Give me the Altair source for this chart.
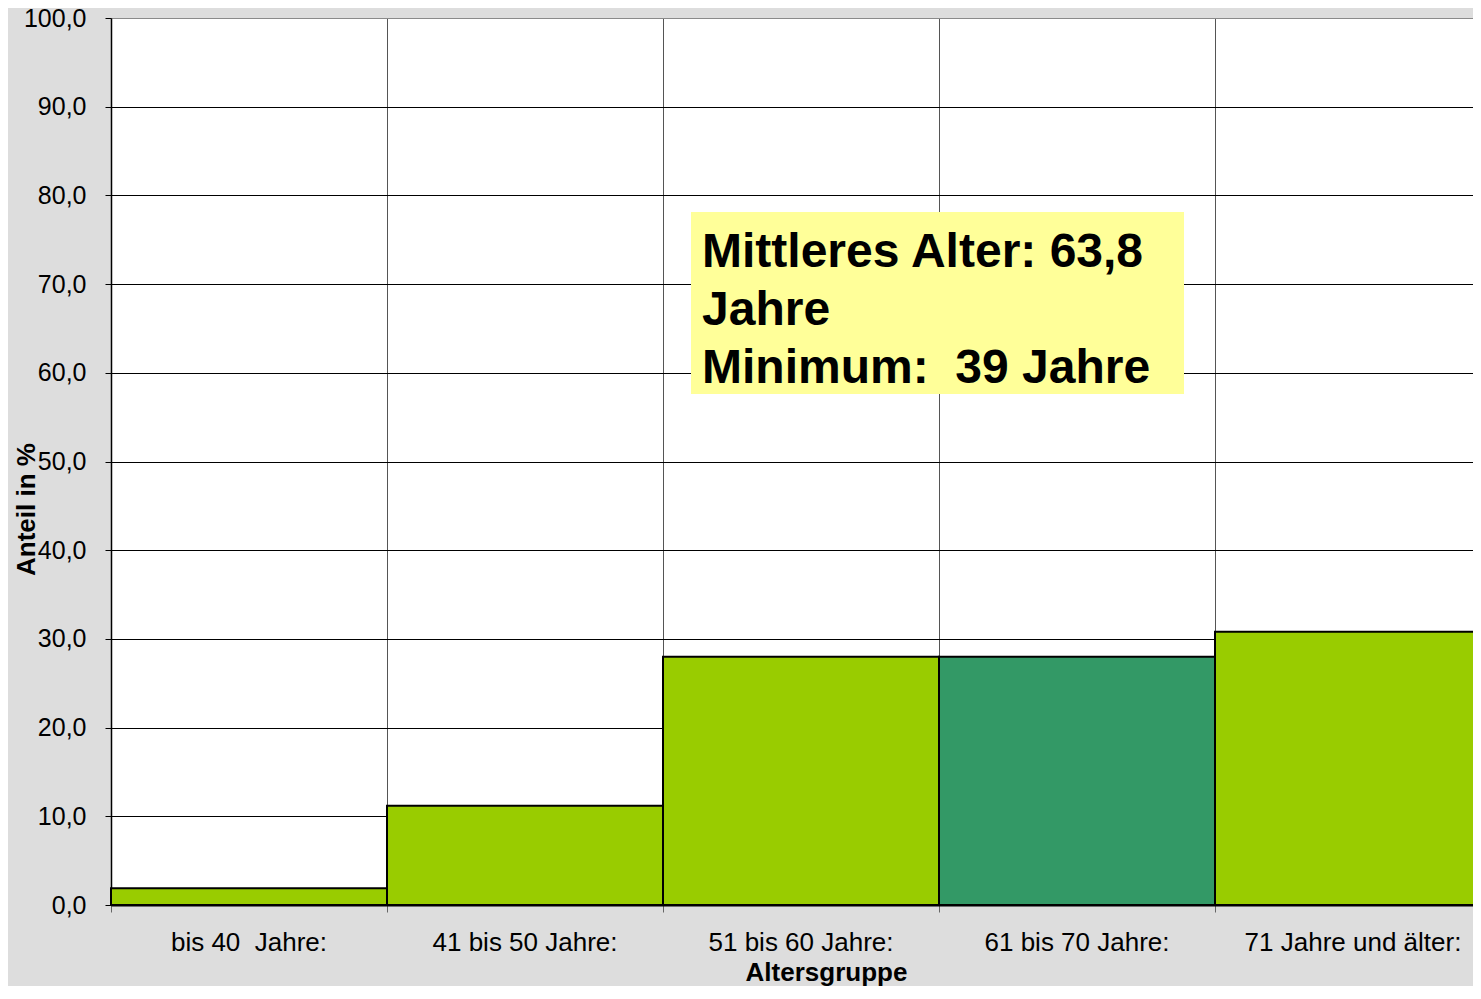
import altair as alt
import pandas as pd

categories = ["bis 40 \u00a0Jahre:", "41 bis 50 Jahre:", "51 bis 60 Jahre:", "61 bis 70 Jahre:", "71 Jahre und älter:"]
values = [1.9, 11.2, 28.0, 28.0, 30.8]
highlight = "61 bis 70 Jahre:"
y_ticks = [0, 10, 20, 30, 40, 50, 60, 70, 80, 90, 100]
note_lines = ["Mittleres Alter: 63,8", "Jahre", "Minimum: \u00a039 Jahre"]

FONT = "Liberation Sans"

df = pd.DataFrame({"gruppe": categories, "anteil": values})

bars = alt.Chart(df).mark_bar(stroke="black", strokeWidth=2).encode(
    x=alt.X(
        "gruppe:N",
        sort=categories,
        scale=alt.Scale(paddingInner=0, paddingOuter=0),
        axis=alt.Axis(
            title="Altersgruppe",
            bandPosition=0,
            labelAngle=0,
            labelFontSize=26,
            labelColor="black",
            labelBaseline="alphabetic",
            labelPadding=38,
            labelLimit=0,
            labelOverlap=False,
            tickSize=7,
            tickColor="#666666",
            grid=True,
            gridColor="#555555",
            gridWidth=1,
            domainColor="black",
            domainWidth=2,
            titleFontSize=26,
            titleFontWeight="bold",
            titleColor="black",
            titleX=715,
            titleY=75,
            titleBaseline="alphabetic",
            titleAlign="center",
        ),
    ),
    y=alt.Y(
        "anteil:Q",
        scale=alt.Scale(domain=[0, 100], nice=False),
        axis=alt.Axis(
            values=y_ticks,
            labelExpr="replace(format(datum.value, '.1f'), '.', ',')",
            title="Anteil in %",
            titleFontSize=26,
            titleFontWeight="bold",
            titleColor="black",
            titleX=-85,
            titleY=491,
            titleAngle=-90,
            titleBaseline="middle",
            titleAlign="center",
            labelFontSize=25,
            labelColor="black",
            labelPadding=19,
            tickSize=6,
            tickColor="black",
            gridColor={"condition": {"test": "datum.value === 100", "value": "#8a8a8a"}, "value": "black"},
            gridWidth=1,
            domainColor="black",
            domainWidth=1.5,
        ),
    ),
    color=alt.condition(alt.datum.gruppe == highlight, alt.value("#339966"), alt.value("#99cc00")),
)

note_df = pd.DataFrame({"k": [0]})

box = alt.Chart(note_df).mark_rect(color="#ffff99").encode(
    x=alt.value(580), x2=alt.value(1073), y=alt.value(194), y2=alt.value(376)
)

note = alt.Chart(note_df).mark_text(
    align="left", baseline="alphabetic", fontSize=48, fontWeight="bold",
    lineHeight=58, color="black", font=FONT
).encode(x=alt.value(591), y=alt.value(249), text=alt.value(note_lines))

chart = alt.layer(bars, box, note).properties(
    width=1380,
    height=887,
    autosize=alt.AutoSizeParams(type="none"),
    padding={"left": 103, "top": 10, "right": -18, "bottom": 81},
    background="#dddddd",
).configure(font=FONT).configure_view(fill="white", stroke="transparent")

chart.save("out.html", embed_options={"renderer": "svg", "actions": False})
